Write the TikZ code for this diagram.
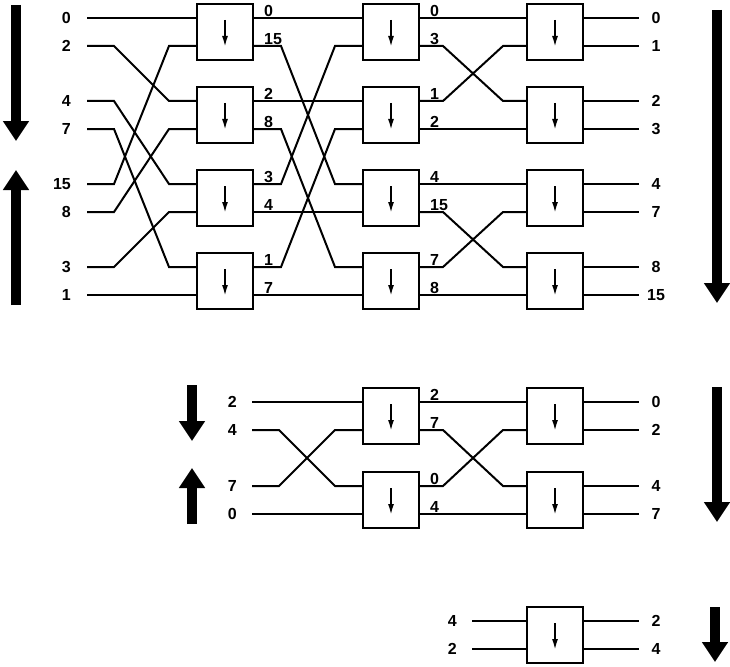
\documentclass[tikz,border=0pt]{standalone}
\usepackage{fontspec}
\setmainfont{Liberation Sans}
\usetikzlibrary{arrows.meta}

\tikzset{
  sorter/.style={draw, line width=2pt, minimum width=56pt, minimum height=56pt, inner sep=0pt},
  wire/.style={line width=2pt},
  link/.style={to path={-- ++(#1,0) -- ([xshift=-#1]\tikztotarget) -- (\tikztotarget)}},
  link/.default=27pt,
  dirarrow/.style={line width=1.8pt, -{Latex[length=11pt,width=6pt]}},
  bigarrow/.style={line width=10pt, -{Triangle[length=20pt,width=25pt]}},
  num/.style={font=\fontsize{16}{16}\bfseries, inner sep=0pt},
  pinlabel/.style={num, anchor=south west, xshift=10pt, yshift=1pt},
}

% one comparator box with its four pins
\newcommand{\sortbox}[3]{%
  \node[sorter] (#1) at (#2,#3) {};
  \draw[dirarrow] ([yshift=12pt]#1.center) -- ([yshift=-15pt]#1.center);
  \coordinate (#1-i1) at ([yshift=14pt]#1.west);
  \coordinate (#1-i2) at ([yshift=-14pt]#1.west);
  \coordinate (#1-o1) at ([yshift=14pt]#1.east);
  \coordinate (#1-o2) at ([yshift=-14pt]#1.east);
}

\begin{document}
\begin{tikzpicture}[x=1pt, y=-1pt]
\useasboundingbox (0,0) rectangle (730,666);

% ---------------- eight inputs ----------------
% comparator columns
\foreach \n/\y in {a/32, b/115, c/198, d/281} {
  \sortbox{t1\n}{225}{\y}
  \sortbox{t2\n}{391}{\y}
  \sortbox{t3\n}{555}{\y}
}

% inputs
\foreach \k/\y/\v in {1/18/0, 2/46/2, 3/101/4, 4/129/7, 5/184/15, 6/212/8, 7/267/3, 8/295/1}
  \node[num, anchor=east] (tin\k) at (71,\y) {\v};
\foreach \k/\b in {1/t1a-i1, 2/t1b-i1, 3/t1c-i1, 4/t1d-i1, 5/t1a-i2, 6/t1b-i2, 7/t1c-i2, 8/t1d-i2}
  \draw[wire] ([xshift=16pt]tin\k.east) to[link] (\b);

% column 1 to column 2
\foreach \a/\b/\v in {t1a-o1/t2a-i1/0, t1a-o2/t2c-i1/15, t1b-o1/t2b-i1/2, t1b-o2/t2d-i1/8,
                      t1c-o1/t2a-i2/3, t1c-o2/t2c-i2/4, t1d-o1/t2b-i2/1, t1d-o2/t2d-i2/7} {
  \draw[wire] (\a) to[link] (\b);
  \node[pinlabel] (lab-\a) at (\a) {\v};
}

% column 2 to column 3
\foreach \a/\b/\v in {t2a-o1/t3a-i1/0, t2a-o2/t3b-i1/3, t2b-o1/t3a-i2/1, t2b-o2/t3b-i2/2,
                      t2c-o1/t3c-i1/4, t2c-o2/t3d-i1/15, t2d-o1/t3c-i2/7, t2d-o2/t3d-i2/8} {
  \draw[wire] (\a) to[link=23pt] (\b);
  \node[pinlabel] (lab-\a) at (\a) {\v};
}

% outputs
\foreach \a/\v in {t3a-o1/0, t3a-o2/1, t3b-o1/2, t3b-o2/3, t3c-o1/4, t3c-o2/7, t3d-o1/8, t3d-o2/15} {
  \node[num] (out-\a) at (\a -| 656,0) {\v};
  \draw[wire] (\a) -- ++(55,0);
}

% direction arrows
\draw[bigarrow] (16,5) -- (16,141);
\draw[bigarrow] (16,305) -- (16,170);
\draw[bigarrow] (717,10) -- (717,303);

% ---------------- four inputs ----------------
\foreach \n/\y in {a/416, b/500} {
  \sortbox{m2\n}{391}{\y}
  \sortbox{m3\n}{555}{\y}
}
\foreach \k/\y/\v in {1/402/2, 2/430/4, 3/486/7, 4/514/0}
  \node[num, anchor=east] (min\k) at (237,\y) {\v};
\foreach \k/\b in {1/m2a-i1, 2/m2b-i1, 3/m2a-i2, 4/m2b-i2}
  \draw[wire] ([xshift=15pt]min\k.east) to[link=27pt] (\b);

\foreach \a/\b/\v in {m2a-o1/m3a-i1/2, m2a-o2/m3b-i1/7, m2b-o1/m3a-i2/0, m2b-o2/m3b-i2/4} {
  \draw[wire] (\a) to[link=23pt] (\b);
  \node[pinlabel] (lab-\a) at (\a) {\v};
}
\foreach \a/\v in {m3a-o1/0, m3a-o2/2, m3b-o1/4, m3b-o2/7} {
  \node[num] (out-\a) at (\a -| 656,0) {\v};
  \draw[wire] (\a) -- ++(55,0);
}

\draw[bigarrow] (192,385) -- (192,441);
\draw[bigarrow] (192,524) -- (192,468);
\draw[bigarrow] (717,387) -- (717,522);

% ---------------- two inputs ----------------
\sortbox{b3a}{555}{635}
\foreach \k/\y/\v in {1/621/4, 2/649/2}
  \node[num, anchor=east] (bin\k) at (457,\y) {\v};
\draw[wire] ([xshift=15pt]bin1.east) -- (b3a-i1);
\draw[wire] ([xshift=15pt]bin2.east) -- (b3a-i2);
\foreach \a/\v in {b3a-o1/2, b3a-o2/4} {
  \node[num] (out-\a) at (\a -| 656,0) {\v};
  \draw[wire] (\a) -- ++(55,0);
}
\draw[bigarrow] (715,607) -- (715,662);

\end{tikzpicture}
\end{document}
